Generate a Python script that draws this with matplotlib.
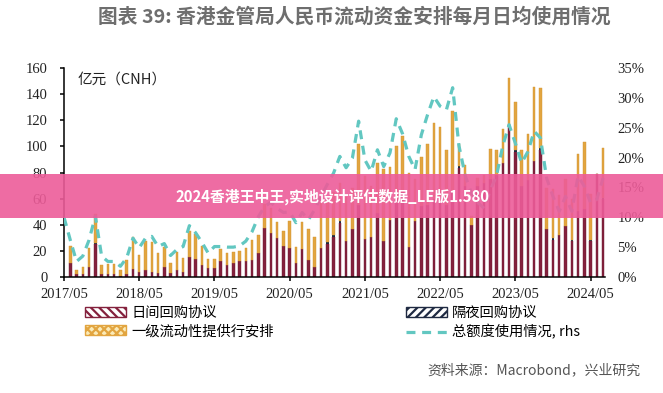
import matplotlib
matplotlib.use("Agg")
import matplotlib.pyplot as plt
from matplotlib.patches import Patch, Rectangle
from matplotlib.lines import Line2D
import numpy as np
import pandas as pd

plt.rcParams['font.family'] = ['Noto Sans CJK SC', 'DejaVu Sans']
plt.rcParams['hatch.linewidth'] = 1.6

months = [p.strftime('%Y/%m') for p in pd.period_range('2017-05', '2024-07', freq='M')]

daytime_repo = [0, 11, 2, 2, 8, 25, 2, 2, 2, 1, 2,
                6, 4, 5, 4, 3, 8, 3, 5, 4, 15,
                14, 9, 7, 7, 12, 9, 11, 12.5, 12, 13,
                18, 37.7, 34, 30, 24, 22, 11, 21.5, 13, 8,
                22, 25.6, 31, 41.5, 27.5, 37, 55, 29, 31, 49,
                27.4, 43.6, 60, 65, 22.8, 42.8, 54, 55, 60, 62,
                55, 65, 83.6, 70, 40, 70, 72, 75, 78, 87,
                117, 96, 69.7, 74.3, 88.9, 97.4, 36.9, 28.7, 31.8, 39,
                27.4, 50.4, 51.7, 27.4, 78.6, 59.4]

overnight_repo = [0, 0, 0, 0, 0, 1, 0, 0, 0, 0,
                  0, 0, 0, 0, 0, 0, 0, 0, 0, 0,
                  0, 0, 0, 0, 0, 0, 0, 0, 0, 0,
                  0, 0, 0, 0, 0, 0, 0, 0, 0, 0,
                  0, 0, 1, 1, 1, 0, 0, 0, 0, 0,
                  0, 0, 0, 0, 0, 0, 0, 0, 0, 0,
                  0, 0, 0, 1, 0, 0, 0, 0, 0, 0,
                  0, 0, 1, 0, 0, 0, 1, 0, 1, 0,
                  0, 1, 0, 0, 1, 0, 1]

primary_liquidity = [0, 13, 3.5, 6, 14, 22, 7, 8, 8, 4.5, 11,
                     25, 13, 22.5, 23, 15, 15, 7.6, 14.5, 10.5, 20,
                     19, 15, 6.5, 6.5, 9.5, 9.7, 8.5, 7.5, 10, 15,
                     14, 17.9, 19, 12, 11, 21, 12, 20.5, 24, 22.5,
                     35, 30.4, 33, 29.5, 33.5, 31, 47, 48.4, 38.7, 38,
                     55.1, 40.4, 40, 43, 57.2, 32.2, 37.5, 47, 58, 53,
                     42, 62, 17.4, 16, 7, 6, 6, 23, 19, 26,
                     35, 37, 27.3, 35.2, 56.5, 46.2, 31.1, 38, 30.7, 35.7,
                     31.6, 43.6, 51.9, 34.9, 0.4, 38]

usage_pct = [10.0, 6.2, 2.6, 3.5, 6.2, 10.2, 3.5, 2.6, 2.6, 1.8, 3.2,
             6.5, 4.9, 6.5, 6.8, 5.1, 5.6, 3.6, 4.6, 5.1, 8.6,
             7.4, 5.8, 4.0, 5.1, 5.1, 5.0, 5.0, 5.2, 6.0, 7.6,
             10.1, 11.8, 12.5, 11.5, 10.8, 10.9, 9.1, 10.8, 9.6, 11.3,
             13.5, 15.5, 17.4, 20.2, 18.3, 19.9, 26.1, 19.6, 17.7, 21.3,
             18.5, 20.8, 26.5, 24.0, 20.2, 18.0, 23.8, 27.2, 30.2, 28.6,
             28.0, 31.7, 22.0, 17.0, 14.0, 12.5, 11.5, 14.5, 17.0, 22.0,
             25.5, 22.4, 19.1, 21.0, 24.4, 23.3, 16.5, 13.5, 11.0, 13.5,
             11.0, 16.9, 15.2, 12.4, 13.0, 16.6]

tick_labels = ['2017/05', '2018/05', '2019/05', '2020/05', '2021/05',
               '2022/05', '2023/05', '2024/05']
left_ticks = [0, 20, 40, 60, 80, 100, 120, 140, 160]
right_ticks = [0, 5, 10, 15, 20, 25, 30, 35]

legend_labels = ['日间回购协议', '一级流动性提供行安排', '隔夜回购协议', '总额度使用情况, rhs']
title = '图表 39: 香港金管局人民币流动资金安排每月日均使用情况'
unit_label = '亿元（CNH）'
source = '资料来源：Macrobond，兴业研究'
banner = '2024香港王中王,实地设计评估数据_LE版1.580'

RED = '#84213D'
NAVY = '#1F2A42'
GOLD = '#E2A540'
TEAL = '#62C7C1'

W, H = 663, 393
fig = plt.figure(figsize=(W / 100, H / 100), dpi=100)
ax = fig.add_axes([64 / W, 1 - 277 / H, (605 - 64) / W, (277 - 68) / H])

x = np.arange(len(months))
d = np.array(daytime_repo, dtype=float)
o = np.array(overnight_repo, dtype=float)
p = np.array(primary_liquidity, dtype=float)
bw = 0.40
ax.bar(x, d, width=bw, color=RED, edgecolor='#6A1A30', linewidth=0.3, zorder=2)
ax.bar(x, o, width=bw, bottom=d, color=NAVY, linewidth=0, zorder=2)
ax.bar(x, p, width=bw, bottom=d + o, color=GOLD, edgecolor='#D39530', linewidth=0.3, zorder=2)

ax.set_xlim(0, 86.3)
ax.set_ylim(0, 160)
month_pos = [months.index(t) for t in tick_labels]
ax.set_xticks(month_pos)
ax.set_xticklabels(tick_labels)
ax.set_yticks(left_ticks)
ax.set_yticklabels([str(v) for v in left_ticks])
for s in ['top', 'right']:
    ax.spines[s].set_visible(False)
for s in ['left', 'bottom']:
    ax.spines[s].set_color('black')
    ax.spines[s].set_linewidth(1.1)
ax.tick_params(axis='y', length=3, width=1.1, pad=9, labelsize=10.5, labelcolor='#222')
ax.tick_params(axis='x', length=3, width=1.1, pad=5, labelsize=10.5, labelcolor='#222')
for lab in ax.get_xticklabels() + ax.get_yticklabels():
    lab.set_family('Liberation Serif')

ax2 = ax.twinx()
ax2.plot(x, usage_pct, color=TEAL, linewidth=2.3, dashes=(2.8, 2.1), zorder=3)
ax2.set_ylim(0, 35)
ax2.set_yticks(right_ticks)
ax2.set_yticklabels([f'{v}%' for v in right_ticks])
for s in ax2.spines.values():
    s.set_visible(False)
ax2.tick_params(axis='y', length=0, pad=9, labelsize=10.5, labelcolor='#222')
for lab in ax2.get_yticklabels():
    lab.set_family('Liberation Serif')

fig.text(78 / W, 1 - 80 / H, unit_label, ha='left', va='center', fontsize=10.5, color='#222')

fig.text(354 / W, 1 - 17 / H, title, ha='center', va='center', fontsize=14.2,
         fontweight='bold', color='#6E6E6E')

handles = [
    Patch(facecolor='white', edgecolor=RED, hatch='\\\\\\\\', linewidth=1.0),
    Patch(facecolor='#FBEBB8', edgecolor=GOLD, hatch='xxxx', linewidth=1.0),
    Patch(facecolor='white', edgecolor=NAVY, hatch='////', linewidth=1.0),
    Line2D([0], [0], color=TEAL, linewidth=2.3, dashes=(2.8, 2.1)),
]
leg = fig.legend(handles, legend_labels, ncol=2, loc='upper left',
                 bbox_to_anchor=(85 / W, 1 - 306 / H), frameon=False,
                 fontsize=10.3, handlelength=2.9, handleheight=0.65,
                 handletextpad=0.35, columnspacing=9.2, labelspacing=0.3,
                 borderpad=0, borderaxespad=0)

fig.text(640 / W, 1 - 370 / H, source, ha='right', va='center', fontsize=10, color='#555')

fig.patches.append(Rectangle((0, 1 - 218 / H), 1, 44 / H, transform=fig.transFigure,
                             facecolor=(0.93, 0.36, 0.60), alpha=0.9, edgecolor='none',
                             zorder=10))
fig.text(332 / W, 1 - 197 / H, banner, ha='center', va='center', fontsize=10.7,
         fontweight='bold', color='white', zorder=11)

fig.savefig('out.png', dpi=100)
